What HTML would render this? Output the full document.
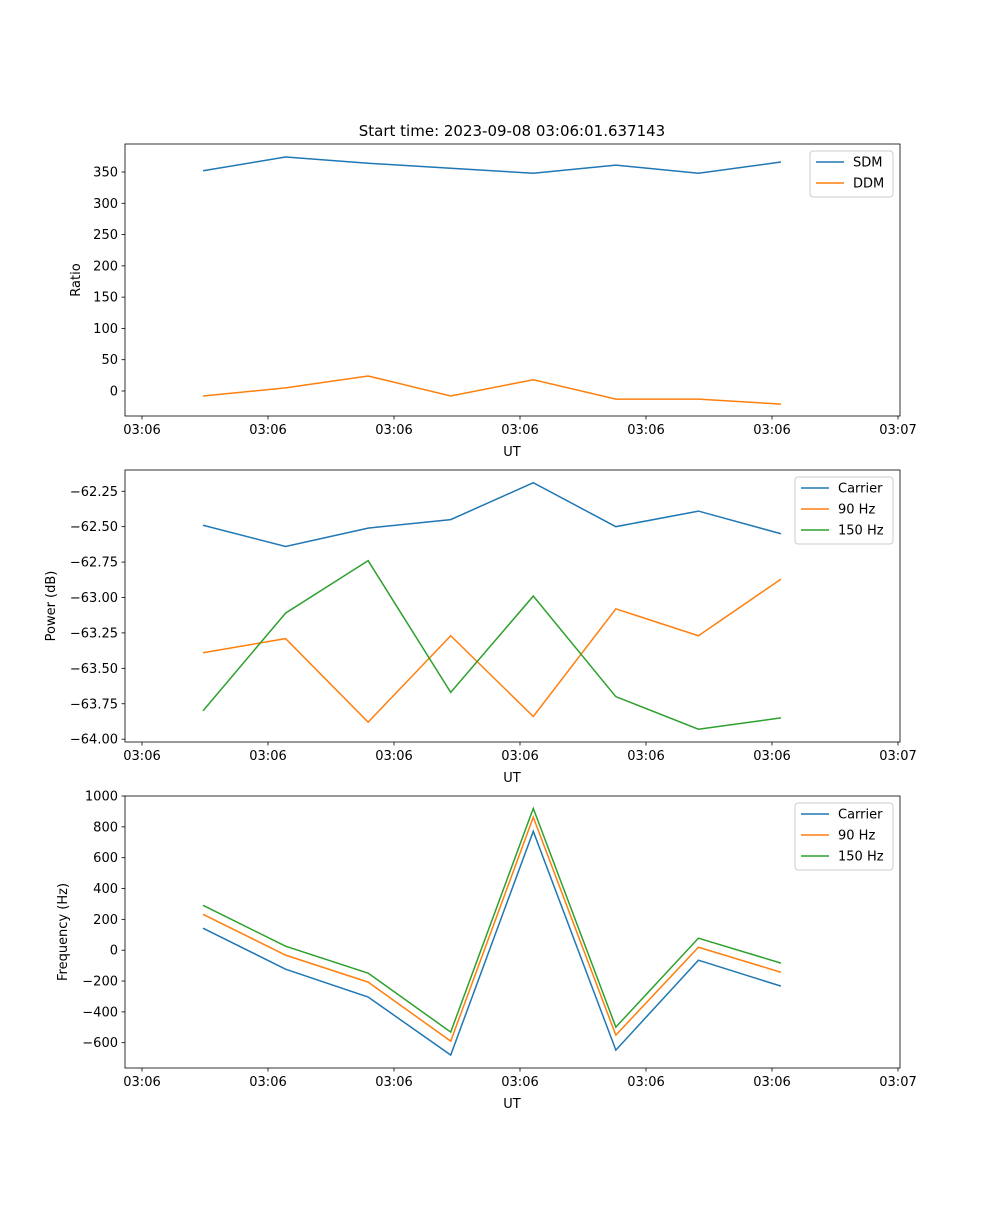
<!DOCTYPE html>
<html><head><meta charset="utf-8"><style>
body{margin:0;background:#fff}
svg text{font-family:"DejaVu Sans","Liberation Sans",sans-serif;font-size:13px;fill:#000}
</style></head><body>
<svg id="fig" width="1000" height="1200" xmlns="http://www.w3.org/2000/svg"></svg>
<script>
const xTickLabels=["03:06","03:06","03:06","03:06","03:06","03:06","03:07"];
const sdm=[352,374,364,356,348,361,348,366];
const ddm=[-8,5,24,-8,18,-13,-13,-21];
const pCarrier=[-62.49,-62.64,-62.51,-62.45,-62.19,-62.50,-62.39,-62.55];
const p90=[-63.39,-63.29,-63.88,-63.27,-63.84,-63.08,-63.27,-62.87];
const p150=[-63.80,-63.11,-62.74,-63.67,-62.99,-63.70,-63.93,-63.85];
const fCarrier=[143,-123,-304,-680,771,-648,-65,-233];
const f90=[233,-32,-207,-590,862,-551,19,-143];
const f150=[291,26,-149,-531,920,-499,78,-84];
const ticks1=[0,50,100,150,200,250,300,350];
const ticks2=[-64.00,-63.75,-63.50,-63.25,-63.00,-62.75,-62.50,-62.25];
const ticks3=[-600,-400,-200,0,200,400,600,800,1000];

const NS="http://www.w3.org/2000/svg";
const svg=document.getElementById('fig');
function mk(t,a,p){const e=document.createElementNS(NS,t);for(const k in a)e.setAttribute(k,a[k]);(p||svg).appendChild(e);return e;}
const L=125,R=900;
const xPt=i=>203+i*82.57;
const xTick=k=>142+k*126;
const C=["#1f77b4","#ff7f0e","#2ca02c"];

function panel(name,top,ymin,ymax,ticks,fmt,ylabel,series,names,legW,title){
  const bot=top+272;
  const g=mk('g',{});
  
  
  const y=v=>bot-(v-ymin)/(ymax-ymin)*272;
  series.forEach((s,j)=>{
    const pl=mk('polyline',{points:s.map((v,i)=>xPt(i)+','+y(v)).join(' '),fill:'none',stroke:C[j],'stroke-width':1.5},g);
    
    
  });
  mk('rect',{x:L,y:top,width:R-L,height:272,fill:'none',stroke:'#000','stroke-width':0.8},g);
  xTickLabels.forEach((t,k)=>{
    const x=xTick(k);
    mk('line',{x1:x,x2:x,y1:bot,y2:bot+3.5,stroke:'#000','stroke-width':0.8},g);
    const tx=mk('text',{x:x,y:bot+18,'text-anchor':'middle'},g);tx.textContent=t;
    
    
  });
  const xl=mk('text',{x:512,y:bot+40,'text-anchor':'middle'},g);xl.textContent='UT';
  
  
  ticks.forEach(v=>{
    const yy=y(v);
    mk('line',{x1:L-3.5,x2:L,y1:yy,y2:yy,stroke:'#000','stroke-width':0.8},g);
    const tx=mk('text',{x:L-7,y:yy+4.5,'text-anchor':'end'},g);tx.textContent=fmt(v);
    
    
  });
  const yl=mk('text',{x:0,y:0,'text-anchor':'middle',transform:`translate(${ylabel[1]},${top+136}) rotate(-90)`},g);yl.textContent=ylabel[0];
  
  
  if(title){const t=mk('text',{x:512,y:top-8,'text-anchor':'middle'},g);t.style.fontSize='15px';t.textContent=title;
    
    }
  const lg=mk('g',{},g);
  
  
  const lx=R-7-legW,ly=top+7,lh=4+names.length*21;
  mk('rect',{x:lx,y:ly,width:legW,height:lh,fill:'#fff',stroke:'#ccc',rx:3},lg);
  names.forEach((n,j)=>{
    const yy=ly+11+j*21;
    mk('line',{x1:lx+6,x2:lx+34,y1:yy,y2:yy,stroke:C[j],'stroke-width':1.5},lg);
    const tx=mk('text',{x:lx+43,y:yy+4.5},lg);tx.textContent=n;
    
    
  });
}
panel('ratio-panel',144,-40,394.8,ticks1,v=>String(v),['Ratio',80],[sdm,ddm],['SDM','DDM'],83,'Start time: 2023-09-08 03:06:01.637143');
panel('power-panel',470,-64.02,-62.10,ticks2,v=>(v<0?'\u2212':'')+Math.abs(v).toFixed(2),['Power (dB)',55],[pCarrier,p90,p150],['Carrier','90 Hz','150 Hz'],98,null);
panel('frequency-panel',796,-764,1000,ticks3,v=>(v<0?'\u2212':'')+Math.abs(v),['Frequency (Hz)',67],[fCarrier,f90,f150],['Carrier','90 Hz','150 Hz'],98,null);
</script>
</body></html>
